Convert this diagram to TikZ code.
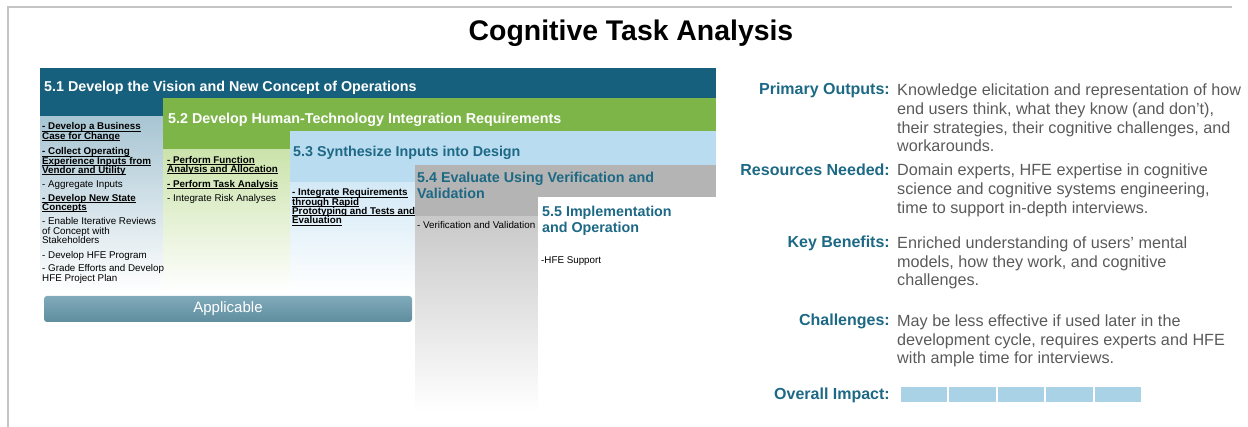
\documentclass[tikz,border=0pt]{standalone}
\usepackage{fontspec}
\setmainfont{Liberation Sans}
\definecolor{ctaone}{HTML}{17607D}
\definecolor{ctaonelt}{HTML}{A8C5D3}
\definecolor{ctatwo}{HTML}{7DB548}
\definecolor{ctatwolt}{HTML}{CBE3AB}
\definecolor{ctathree}{HTML}{BADCF0}
\definecolor{ctathreelt}{HTML}{D3E9F6}
\definecolor{ctafour}{HTML}{B4B4B4}
\definecolor{ctafourlt}{HTML}{C9C9C9}
\definecolor{ctateal}{HTML}{1D6985}
\definecolor{ctagray}{HTML}{5A5A5A}
\definecolor{ctabartop}{HTML}{80AABA}
\definecolor{ctabarbot}{HTML}{5F8E9F}
\definecolor{ctaimpact}{HTML}{A9D2E7}
\definecolor{ctaframe}{HTML}{C4C4C4}
\newsavebox\ulbox
\newcommand{\ulb}[1]{\setbox\ulbox\hbox{\bfseries #1}\rlap{\vrule width\wd\ulbox height -0.7pt depth 1.3pt}\box\ulbox}

\begin{document}
\begin{tikzpicture}[
  x=1pt, y=-1pt,
  head/.style={anchor=base west, inner sep=0pt, align=left, font=\fontsize{14.3}{15.5}\selectfont\bfseries},
  item/.style={anchor=base west, inner sep=0pt, align=left, font=\fontsize{9.8}{9.3}\selectfont},
  lbl/.style={anchor=base east, inner sep=0pt, text=ctateal, font=\fontsize{16}{18.7}\selectfont\bfseries},
  body/.style={anchor=base west, inner sep=0pt, align=left, text=ctagray, font=\fontsize{16.2}{18.7}\selectfont}
]
  \lineskiplimit=-10pt
  \useasboundingbox (0,0) rectangle (1248,427);
  % cadre
  \draw[ctaframe, line width=1.2pt] (1232,7) -- (8,7) -- (8,427);
  % titre
  \node[anchor=base, inner sep=0pt, font=\fontsize{28.4}{30}\selectfont\bfseries] (title) at (631,41) {Cognitive Task Analysis};

  % escalier des phases
  \fill[ctaone] (40,68) rectangle (716,117);
  \shade[top color=ctaonelt, bottom color=white] (40,117) rectangle (163,292);
  \fill[ctatwo] (163,98) rectangle (716,150);
  \shade[top color=ctatwolt, bottom color=white] (163,150) rectangle (290,292);
  \fill[ctathree] (290,131) rectangle (716,183);
  \shade[top color=ctathreelt, bottom color=white] (290,183) rectangle (415,292);
  \fill[ctafour] (415,165) rectangle (716,217);
  \shade[top color=ctafourlt, bottom color=white] (415,217) rectangle (538,412);
  \fill[white] (538,197) rectangle (716,412);

  % titres des phases (base = derniere ligne)
  \node[head, text=white]   (h51) at (44,92)  {5.1 Develop the Vision and New Concept of Operations};
  \node[head, text=white]   (h52) at (168,124) {5.2 Develop Human-Technology Integration Requirements};
  \node[head, text=ctateal] (h53) at (293,157) {5.3 Synthesize Inputs into Design};
  \node[head, text=ctateal] (h54) at (417,198.5) {5.4 Evaluate Using Verification and\\Validation};
  \node[head, text=ctateal] (h55) at (542,232.5) {5.5 Implementation\\and Operation};

  % activites 5.1
  \node[item] (a1) at (42,139.3) {\ulb{- Develop a Business}\\\ulb{Case for Change}};
  \node[item] (a2) at (42,173.6) {\ulb{- Collect Operating}\\\ulb{Experience Inputs from}\\\ulb{Vendor and Utility}};
  \node[item] (a3) at (42,187.5) {- Aggregate Inputs};
  \node[item] (a4) at (42,210.8) {\ulb{- Develop New State}\\\ulb{Concepts}};
  \node[item] (a5) at (42,243.6) {- Enable Iterative Reviews\\of Concept with\\Stakeholders};
  \node[item] (a6) at (42,258.5) {- Develop HFE Program};
  \node[item] (a7) at (42,281.3) {- Grade Efforts and Develop\\HFE Project Plan};
  % activites 5.2
  \node[item] (b1) at (167,172.8) {\ulb{- Perform Function}\\\ulb{Analysis and Allocation}};
  \node[item] (b2) at (167,187.5) {\ulb{- Perform Task Analysis}};
  \node[item] (b3) at (167,201.5) {- Integrate Risk Analyses};
  % activites 5.3 a 5.5
  \node[item] (c1) at (292,223.9) {\ulb{- Integrate Requirements}\\\ulb{through Rapid}\\\ulb{Prototyping and Tests and}\\\ulb{Evaluation}};
  \node[item] (d1) at (417,229) {- Verification and Validation};
  \node[item] (e1) at (541,264) {-HFE Support};

  % barre applicable
  \shade[top color=ctabartop, bottom color=ctabarbot, rounded corners=3pt] (44,296) rectangle (412,322);
  \node[text=white, font=\fontsize{15}{17}\selectfont] (appl) at (228,309) {Applicable};

  % colonne de droite
  \node[lbl]  (po)  at (890,95) {Primary Outputs:};
  \node[body] (pot) at (897,152) {Knowledge elicitation and representation of how\\end users think, what they know (and don’t),\\their strategies, their cognitive challenges, and\\workarounds.};
  \node[lbl]  (rn)  at (890,176) {Resources Needed:};
  \node[body] (rnt) at (897,213.4) {Domain experts, HFE expertise in cognitive\\science and cognitive systems engineering,\\time to support in-depth interviews.};
  \node[lbl]  (kb)  at (890,248) {Key Benefits:};
  \node[body] (kbt) at (897,286) {Enriched understanding of users’ mental\\models, how they work, and cognitive\\challenges.};
  \node[lbl]  (ch)  at (890,326) {Challenges:};
  \node[body] (cht) at (897,364) {May be less effective if used later in the\\development cycle, requires experts and HFE\\with ample time for interviews.};
  \node[lbl]  (oi)  at (890,400) {Overall Impact:};
  % echelle d'impact
  \foreach \i in {0,...,4}
    \fill[ctaimpact] ({901+\i*48.4},387) rectangle ({947.4+\i*48.4},402);
\end{tikzpicture}
\end{document}
